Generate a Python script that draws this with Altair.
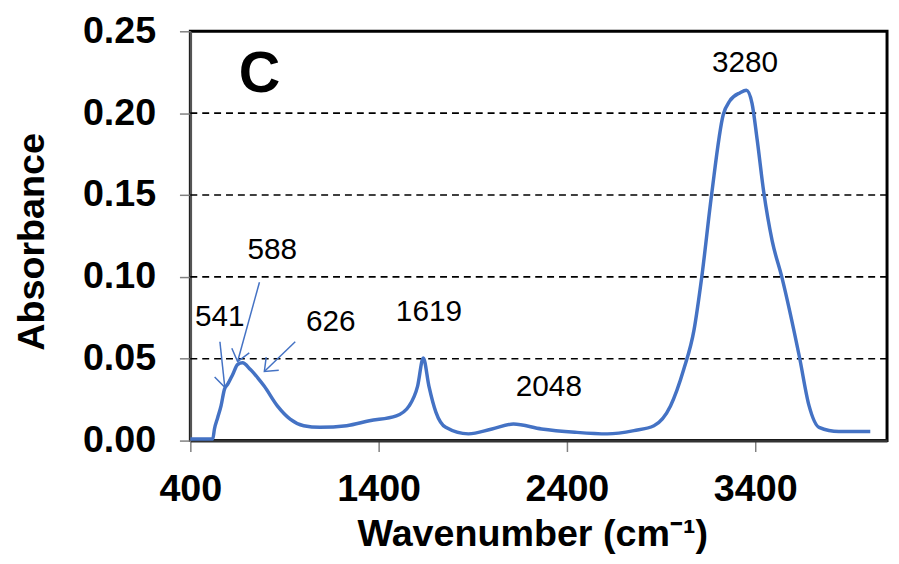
import altair as alt
import pandas as pd

# Spectrum
wavenumber = [400, 519, 528, 545, 563, 581, 598, 625, 651, 677, 719, 760, 792, 862, 930,
              1002, 1088, 1230, 1351, 1494, 1562, 1607, 1637, 1667, 1704, 1756, 1877,
              2002, 2116, 2265, 2443, 2614, 2756, 2862, 2950, 3020, 3075, 3116, 3168,
              3230, 3265, 3320, 3353, 3383, 3410, 3445, 3490, 3541, 3634, 3686, 3739,
              3844, 4011]
absorbance = [0.001, 0.001, 0.0071, 0.014, 0.0212, 0.0313, 0.0343, 0.0404, 0.0465, 0.0475,
              0.0434, 0.038, 0.0333, 0.0212, 0.0131, 0.0091, 0.0081, 0.0091, 0.0121, 0.0151,
              0.0212, 0.0333, 0.0505, 0.0333, 0.0174, 0.0081, 0.0041, 0.0071, 0.0101, 0.0071,
              0.0051, 0.0041, 0.0061, 0.0091, 0.0212, 0.0434, 0.0676, 0.0999, 0.150, 0.199,
              0.2075, 0.2125, 0.214, 0.206, 0.184, 0.152, 0.122, 0.100, 0.0515, 0.0212, 0.0081,
              0.0055, 0.0055]

# Peak labels
peak_labels = ["3280", "1619", "2048", "588", "541", "626"]
label_x = [3346, 1667, 2304, 835, 556, 1146]
label_y = [0.2306, 0.0786, 0.0325, 0.1161, 0.0755, 0.0725]

# Arrows (start -> tip)
arrow_x = [557, 767, 957]
arrow_y = [0.0604, 0.0967, 0.0604]
arrow_x2 = [583, 651, 793]
arrow_y2 = [0.0325, 0.0483, 0.0422]
arrow_angle = [84, 105, 136]

panel_letter = ["C"]
panel_x = [767]
panel_y = [0.2233]

x_ticks = [400, 1400, 2400, 3400]
y_ticks = [0.0, 0.05, 0.10, 0.15, 0.20, 0.25]
grid_values = [0.05, 0.10, 0.15, 0.20]

BLUE = "#4472C4"
FONT = "Liberation Sans"

spec_df = pd.DataFrame({"wn": wavenumber, "ab": absorbance})
lab_df = pd.DataFrame({"wn": label_x, "ab": label_y, "t": peak_labels})
arr_df = pd.DataFrame({"wn": arrow_x, "ab": arrow_y, "wn2": arrow_x2, "ab2": arrow_y2,
                       "ang": arrow_angle})
pan_df = pd.DataFrame({"wn": panel_x, "ab": panel_y, "t": panel_letter})
grid_df = pd.DataFrame({"ab": grid_values})

xs = alt.Scale(domain=[400, 4100], nice=False, zero=False)
ys = alt.Scale(domain=[0, 0.25], nice=False, zero=True)

xaxis = alt.Axis(values=x_ticks, format="d", labelFont=FONT, labelFontWeight="bold",
                 labelFontSize=38, labelColor="black", labelFlush=False, labelPadding=19,
                 tickColor="#808080", tickSize=11, tickWidth=1.5,
                 domainColor="#333333", domainWidth=3, grid=False,
                 title="Wavenumber (cm⁻¹)", titleFont=FONT, titleFontWeight="bold",
                 titleFontSize=38, titleColor="black", titleX=345, titleY=106,
                 titleAlign="center", titleBaseline="alphabetic")
yaxis = alt.Axis(values=y_ticks, format=".2f", labelFont=FONT, labelFontWeight="bold",
                 labelFontSize=38, labelColor="black", labelFlush=False, labelPadding=24,
                 tickColor="#808080", tickSize=11, tickWidth=1.5,
                 domainColor="#555555", domainWidth=2.5, grid=False,
                 title="Absorbance", titleFont=FONT, titleFontWeight="bold",
                 titleFontSize=38, titleColor="black", titleAngle=270, titleX=-159,
                 titleY=212, titleAlign="center", titleBaseline="middle")

X = alt.X("wn:Q", scale=xs, axis=xaxis)
Y = alt.Y("ab:Q", scale=ys, axis=yaxis)

grid = alt.Chart(grid_df).mark_rule(color="black", strokeWidth=1.6,
                                    strokeDash=[7, 5]).encode(y=Y)

line = alt.Chart(spec_df).mark_line(color=BLUE, strokeWidth=3.5,
                                    interpolate="monotone").encode(x=X, y=Y)

arrows = alt.Chart(arr_df).mark_rule(color=BLUE, strokeWidth=1.5).encode(
    x=X, y=Y, x2="wn2:Q", y2="ab2:Q")

heads = alt.Chart(arr_df).mark_point(shape="M -1 -0.8 L 0 0 L -1 0.8", filled=False,
                                     size=520, strokeWidth=1.5, color=BLUE, opacity=1).encode(
    x=alt.X("wn2:Q", scale=xs, axis=xaxis), y=alt.Y("ab2:Q", scale=ys, axis=yaxis),
    angle=alt.Angle("ang:Q", scale=None))

labels = alt.Chart(lab_df).mark_text(font=FONT, fontSize=30, color="black",
                                     align="center", baseline="middle").encode(
    x=X, y=Y, text="t:N")

panel = alt.Chart(pan_df).mark_text(font=FONT, fontSize=58, fontWeight="bold", color="black",
                                    align="center", baseline="middle").encode(
    x=X, y=Y, text="t:N")

chart = alt.layer(grid, line, arrows, heads, labels, panel).properties(
    width=703, height=413,
    background="white",
    autosize=alt.AutoSizeParams(type="none"),
    padding={"left": 184, "top": 21, "right": 4, "bottom": 120},
).configure_view(stroke="black", strokeWidth=3)

chart.save("out.html", embed_options={"renderer": "svg", "actions": False})
